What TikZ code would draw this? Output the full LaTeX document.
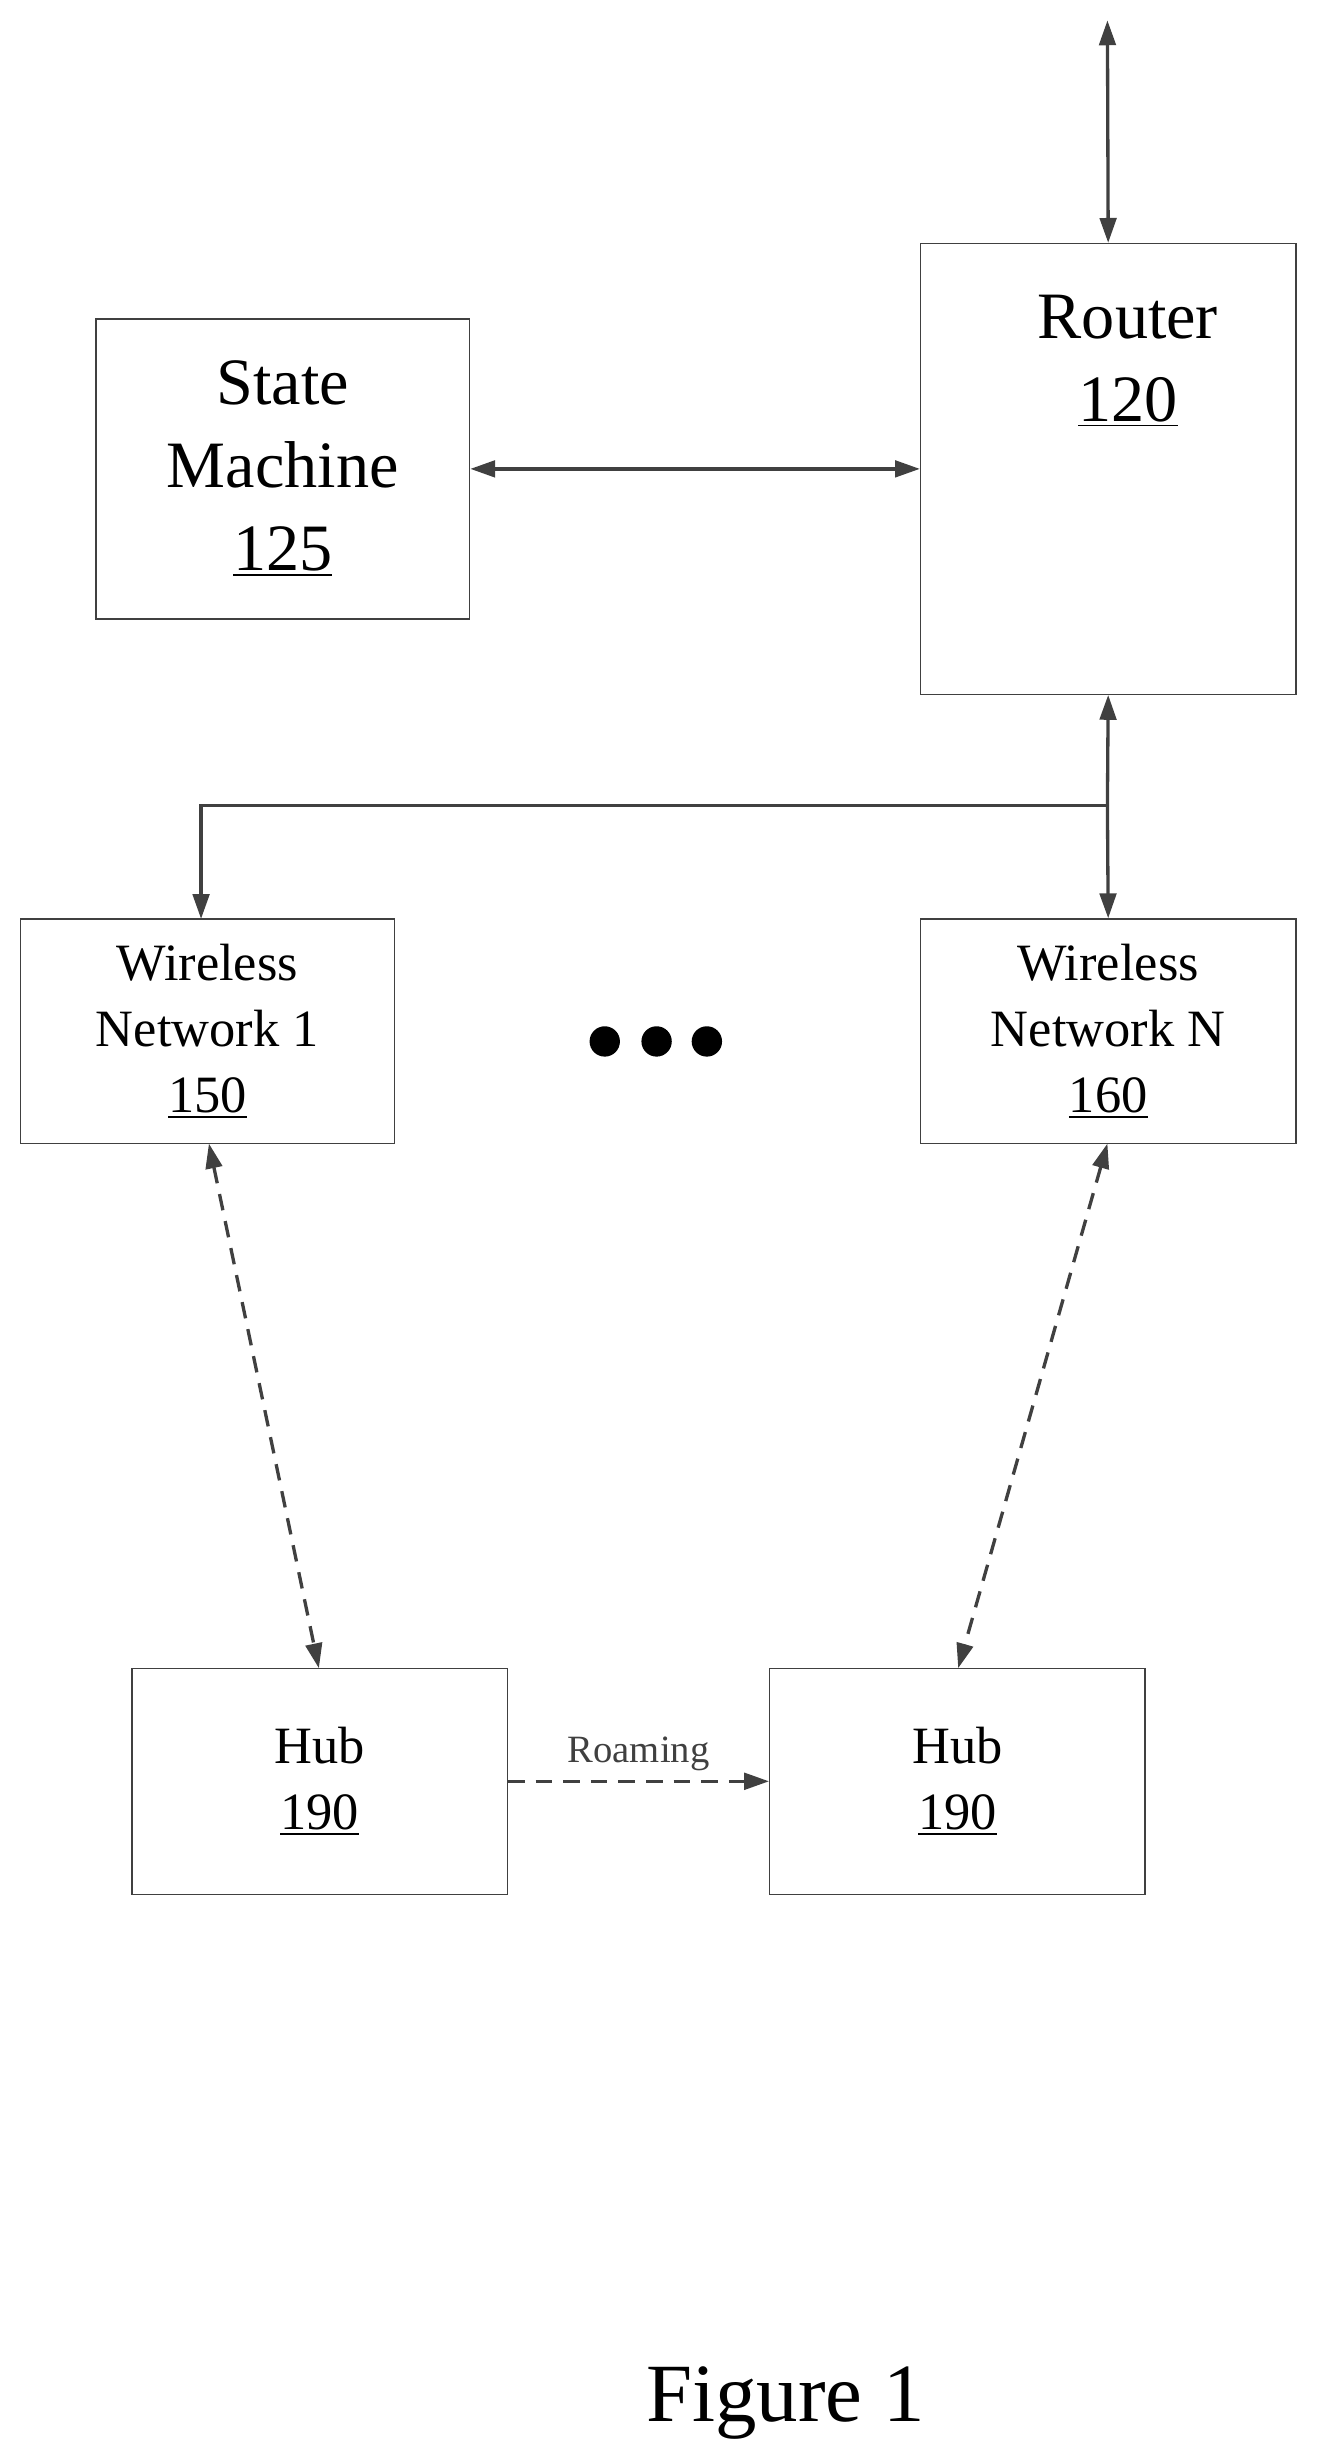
\documentclass[tikz,border=0pt]{standalone}
\usepackage{fontspec}
\setmainfont{Liberation Serif}
\usetikzlibrary{positioning,arrows.meta,calc}
\definecolor{linegray}{HTML}{404040}

\begin{document}
\begin{tikzpicture}[x=0.02cm,y=-0.02cm,
      blk/.style={
        shape=rectangle,
        draw=linegray,
        inner sep=0pt,
        line width=0.5pt,
      },
      big/.style={font=\fontsize{24}{30}\selectfont, align=center},
      mid/.style={font=\fontsize{19}{24}\selectfont, align=center},
      link/.style={{Triangle[length=9pt,width=6pt]}-{Triangle[length=9pt,width=6pt]}, linegray, line width=1.2pt},
      dlink/.style={link, dashed, dash pattern=on 6pt off 4pt},
      dot/.style={circle, fill=black, inner sep=0pt, minimum size=11pt}]
      \useasboundingbox (0,0) rectangle (838,1568);
      % boxes
      \node[blk, minimum width=4.76cm, minimum height=3.82cm] (sm) at (180,298.5) {};
      \node[big] at (sm) {State\\Machine\\\underline{125}};
      \node[blk, minimum width=4.78cm, minimum height=5.74cm] (rt) at (705.5,298.5) {};
      \node[big] at (718,230) {Router\\\underline{120}};
      \node[blk, minimum width=4.76cm, minimum height=2.86cm] (wn1) at (132,656.5) {};
      \node[mid] at (wn1) {Wireless\\Network 1\\\underline{150}};
      \node[blk, minimum width=4.78cm, minimum height=2.86cm] (wnn) at (705.5,656.5) {};
      \node[mid] at (wnn) {Wireless\\Network N\\\underline{160}};
      \node[blk, minimum width=4.78cm, minimum height=2.88cm] (hub1) at (203.5,1134) {};
      \node[mid] at (hub1) {Hub\\\underline{190}};
      \node[blk, minimum width=4.78cm, minimum height=2.88cm] (hub2) at (609.5,1134) {};
      \node[mid] at (hub2) {Hub\\\underline{190}};
      % dots
      \foreach \dx in {385,418,450}
        \node[dot] at (\dx,663) {};
      \coordinate (up) at (705,13);
      \coordinate (split) at (705,513);
      % connectors
      \draw[link] (up) -- (rt.north);
      \draw[link] (sm.east) -- (rt.west);
      \draw[-{Triangle[length=9pt,width=6pt]}, linegray, line width=1.2pt] (split) -- (rt.south);
      \draw[-{Triangle[length=9pt,width=6pt]}, linegray, line width=1.2pt] (split) -| (128,585);
      \draw[-{Triangle[length=9pt,width=6pt]}, linegray, line width=1.2pt] (split) -- (wnn.north);
      \draw[dlink] (133,728) -- (203,1062);
      \draw[dlink] (705,728) -- (610,1062);
      \draw[dlink, {-Triangle[length=9pt,width=6pt]}] (hub1.east) -- node[above, font=\fontsize{14}{16}\selectfont] {Roaming} (hub2.west);
      \node[font=\fontsize{30}{36}\selectfont] (fig) at (500,1530) {Figure 1};
    \end{tikzpicture}
\end{document}
